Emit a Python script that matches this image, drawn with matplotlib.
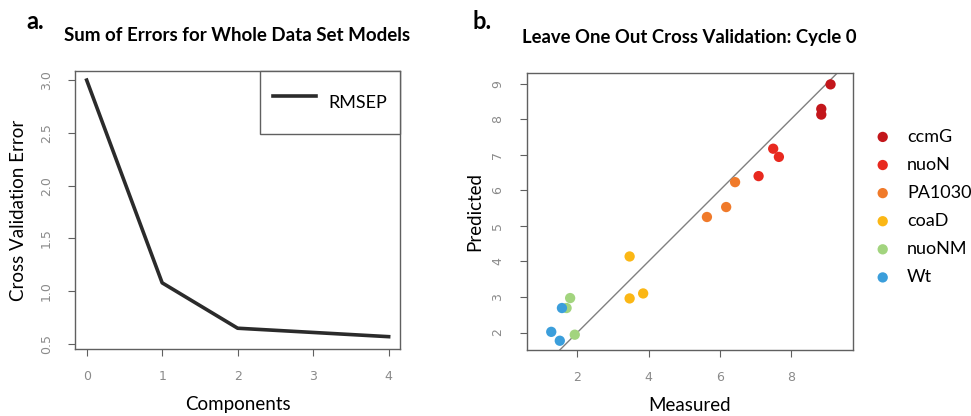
import matplotlib.pyplot as plt
import numpy as np

# ----- panel a data -----
components = [0, 1, 2, 3, 4]
rmsep = [3.00, 1.08, 0.65, 0.61, 0.57]

# ----- panel b data (measured, predicted per strain) -----
strains = ["ccmG", "nuoN", "PA1030", "coaD", "nuoNM", "Wt"]
colors = ["#c3161b", "#e8291f", "#f07a2a", "#fbb715", "#a2d47e", "#3b9edb"]
measured = [
    [9.11, 8.85, 8.85],
    [7.50, 7.66, 7.09],
    [6.43, 6.18, 5.64],
    [3.47, 3.47, 3.85],
    [1.80, 1.70, 1.93],
    [1.57, 1.27, 1.51],
]
predicted = [
    [8.98, 8.29, 8.13],
    [7.17, 6.94, 6.40],
    [6.23, 5.53, 5.25],
    [4.14, 2.96, 3.10],
    [2.97, 2.69, 1.94],
    [2.69, 2.02, 1.77],
]

TXT = "Lato"
TICK_COLOR = "#8a8a8a"
SPINE_COLOR = "#606060"

fig = plt.figure(figsize=(9.71, 4.16), dpi=100)


def style_axes(ax):
    for s in ax.spines.values():
        s.set_color(SPINE_COLOR)
        s.set_linewidth(1.0)
    ax.tick_params(direction="out", length=5, color=SPINE_COLOR,
                   labelcolor=TICK_COLOR, labelsize=9)
    ax.tick_params(axis="x", pad=10)
    ax.tick_params(axis="y", pad=11)
    for lab in ax.get_yticklabels():
        lab.set_rotation(90)
        lab.set_va("center")


# ----- panel a -----
ax1 = fig.add_axes([0.0772, 0.161, 0.3347, 0.668])
ax1.plot(components, rmsep, color="#2b2b2b", linewidth=2.6, label="RMSEP")
ax1.set_xlim(-0.155, 4.15)
ax1.set_ylim(0.453, 3.085)
ax1.set_xticks([0, 1, 2, 3, 4])
ax1.set_yticks([0.5, 1.0, 1.5, 2.0, 2.5, 3.0])
ax1.set_yticklabels(["0.5", "1.0", "1.5", "2.0", "2.5", "3.0"])
style_axes(ax1)
ax1.set_xlabel("Components", family=TXT, fontsize=13.5, labelpad=9.5)
ax1.set_ylabel("Cross Validation Error", family=TXT, fontsize=13.5, labelpad=9.5)
ax1.set_title("Sum of Errors for Whole Data Set Models", family=TXT,
              fontweight="bold", fontsize=13.5, pad=22)
leg = ax1.legend(loc="upper right", borderaxespad=0, fancybox=False,
                 framealpha=1, edgecolor=SPINE_COLOR, prop={"family": TXT, "size": 13},
                 handlelength=2.4, handleheight=2.85, borderpad=0.7, handletextpad=0.7)
leg.get_frame().set_linewidth(1.0)
fig.text(0.027, 0.93, "a.", family=TXT, fontweight="bold", fontsize=17)

# ----- panel b -----
ax2 = fig.add_axes([0.5424, 0.1587, 0.3357, 0.665])
ax2.plot([0, 10], [0, 10], color="#808080", linewidth=1.0, zorder=1)
for name, col, mx, py in zip(strains, colors, measured, predicted):
    ax2.scatter(mx, py, s=55, color=col, edgecolors="none", label=name, zorder=2)
ax2.set_xlim(0.58, 9.73)
ax2.set_ylim(1.51, 9.29)
ax2.set_xticks([2, 4, 6, 8])
ax2.set_yticks([2, 3, 4, 5, 6, 7, 8, 9])
style_axes(ax2)
ax2.set_xlabel("Measured", family=TXT, fontsize=13.5, labelpad=9.5)
ax2.set_ylabel("Predicted", family=TXT, fontsize=13.5, labelpad=6)
ax2.set_title("Leave One Out Cross Validation: Cycle 0", family=TXT,
              fontweight="bold", fontsize=13.3, pad=22)
ax2.legend(loc="upper left", bbox_to_anchor=(1.059, 0.80), frameon=False,
           prop={"family": TXT, "size": 13}, handlelength=1.2, handletextpad=0.75,
           labelspacing=0.67, markerscale=1.0, borderpad=0, borderaxespad=0)
fig.text(0.487, 0.93, "b.", family=TXT, fontweight="bold", fontsize=17)

fig.savefig("out.png", dpi=100)
